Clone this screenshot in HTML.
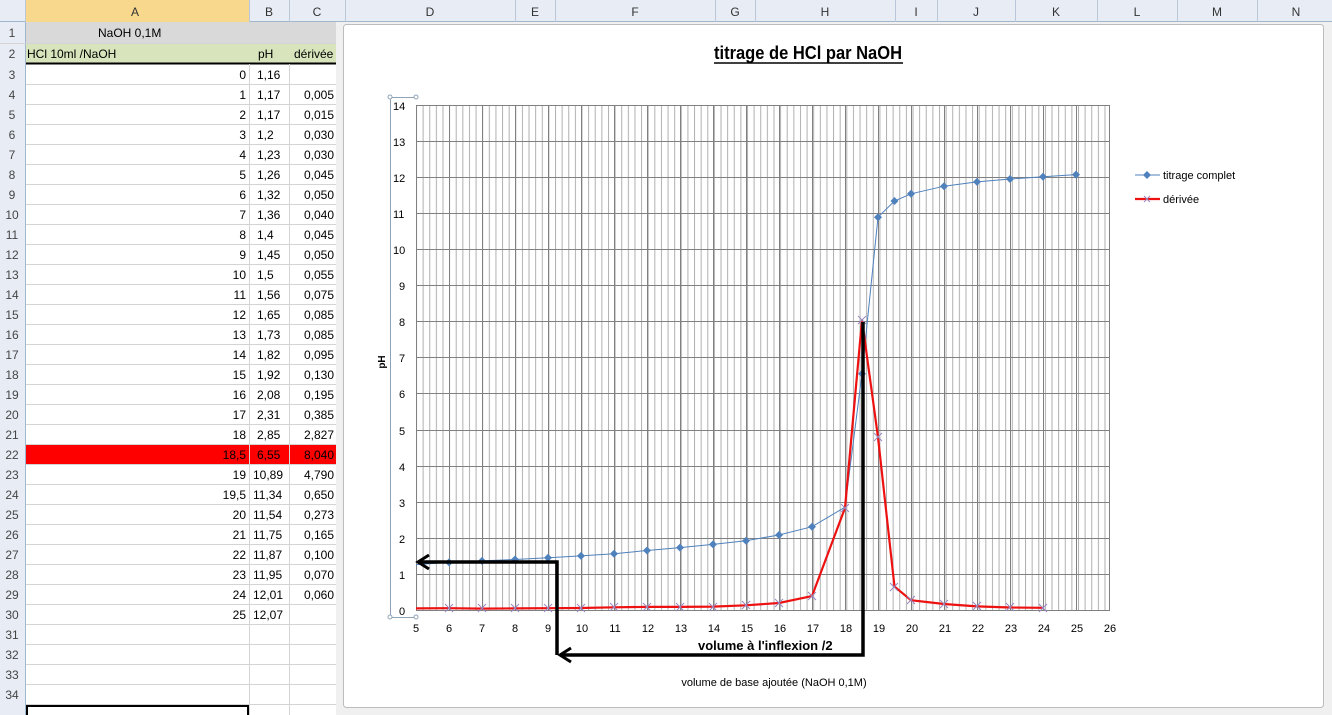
<!DOCTYPE html>
<html><head><meta charset="utf-8"><style>
html,body{margin:0;padding:0;background:#fff;width:1332px;height:715px;overflow:hidden}
svg{display:block;font-family:"Liberation Sans",sans-serif}
</style></head><body>
<svg width="1332" height="715" viewBox="0 0 1332 715" xmlns="http://www.w3.org/2000/svg">
<defs>
<pattern id="minor" x="416" y="0" width="6.62" height="715" patternUnits="userSpaceOnUse">
<line x1="0.5" y1="0" x2="0.5" y2="715" stroke="#b0b0b0" stroke-width="1"/></pattern>
<marker id="ah" markerWidth="12" markerHeight="12" refX="10" refY="6" orient="auto" markerUnits="userSpaceOnUse"><path d="M3,1 L10,6 L3,11" fill="none" stroke="#000" stroke-width="2.5"/></marker>
<clipPath id="pc"><rect x="416" y="100" width="695" height="515"/></clipPath>
</defs>
<rect x="0" y="0" width="1332" height="715" fill="#fff"/>
<rect x="0" y="0" width="1332" height="22" fill="#e8edf5"/>
<line x1="0" y1="21.5" x2="1332" y2="21.5" stroke="#9eb6ce"/>
<rect x="25" y="0" width="224" height="22" fill="#f8d88c"/>
<g stroke="#b9c7d9">
<line x1="25.5" y1="0" x2="25.5" y2="22"/><line x1="249.5" y1="0" x2="249.5" y2="22"/><line x1="289.5" y1="0" x2="289.5" y2="22"/><line x1="345.5" y1="0" x2="345.5" y2="22"/><line x1="515.5" y1="0" x2="515.5" y2="22"/><line x1="555.5" y1="0" x2="555.5" y2="22"/><line x1="715.5" y1="0" x2="715.5" y2="22"/><line x1="755.5" y1="0" x2="755.5" y2="22"/><line x1="895.5" y1="0" x2="895.5" y2="22"/><line x1="937.5" y1="0" x2="937.5" y2="22"/><line x1="1015.5" y1="0" x2="1015.5" y2="22"/><line x1="1097.5" y1="0" x2="1097.5" y2="22"/><line x1="1177.5" y1="0" x2="1177.5" y2="22"/><line x1="1257.5" y1="0" x2="1257.5" y2="22"/>
</g>
<g font-size="12" fill="#333" text-anchor="middle">
<text x="135" y="16">A</text><text x="269" y="16">B</text><text x="317" y="16">C</text><text x="430" y="16">D</text><text x="535" y="16">E</text><text x="635" y="16">F</text><text x="735" y="16">G</text><text x="825" y="16">H</text><text x="916" y="16">I</text><text x="976" y="16">J</text><text x="1056" y="16">K</text><text x="1137" y="16">L</text><text x="1217" y="16">M</text><text x="1296" y="16">N</text>
</g>
<rect x="0" y="22" width="25" height="693" fill="#e8edf5"/>
<line x1="25.5" y1="22" x2="25.5" y2="715" stroke="#9eb6ce"/>
<rect x="26" y="22" width="319" height="21" fill="#d9d9d9"/>
<rect x="26" y="43" width="319" height="21" fill="#d7e4bc"/>
<line x1="26" y1="63.5" x2="345" y2="63.5" stroke="#000" stroke-width="2"/>
<rect x="26" y="444" width="319" height="20" fill="#ff0000"/>
<g stroke="#d4d4d4">
<line x1="249.5" y1="64" x2="249.5" y2="715"/><line x1="289.5" y1="64" x2="289.5" y2="715"/>
</g>
<g stroke="#d4d4d4">
<line x1="0" y1="43.5" x2="345" y2="43.5"/>
<line x1="26" y1="84.5" x2="345" y2="84.5"/><line x1="26" y1="104.5" x2="345" y2="104.5"/><line x1="26" y1="124.5" x2="345" y2="124.5"/><line x1="26" y1="144.5" x2="345" y2="144.5"/><line x1="26" y1="164.5" x2="345" y2="164.5"/><line x1="26" y1="184.5" x2="345" y2="184.5"/><line x1="26" y1="204.5" x2="345" y2="204.5"/><line x1="26" y1="224.5" x2="345" y2="224.5"/><line x1="26" y1="244.5" x2="345" y2="244.5"/><line x1="26" y1="264.5" x2="345" y2="264.5"/><line x1="26" y1="284.5" x2="345" y2="284.5"/><line x1="26" y1="304.5" x2="345" y2="304.5"/><line x1="26" y1="324.5" x2="345" y2="324.5"/><line x1="26" y1="344.5" x2="345" y2="344.5"/><line x1="26" y1="364.5" x2="345" y2="364.5"/><line x1="26" y1="384.5" x2="345" y2="384.5"/><line x1="26" y1="404.5" x2="345" y2="404.5"/><line x1="26" y1="424.5" x2="345" y2="424.5"/><line x1="26" y1="444.5" x2="345" y2="444.5"/><line x1="26" y1="464.5" x2="345" y2="464.5"/><line x1="26" y1="484.5" x2="345" y2="484.5"/><line x1="26" y1="504.5" x2="345" y2="504.5"/><line x1="26" y1="524.5" x2="345" y2="524.5"/><line x1="26" y1="544.5" x2="345" y2="544.5"/><line x1="26" y1="564.5" x2="345" y2="564.5"/><line x1="26" y1="584.5" x2="345" y2="584.5"/><line x1="26" y1="604.5" x2="345" y2="604.5"/><line x1="26" y1="624.5" x2="345" y2="624.5"/><line x1="26" y1="644.5" x2="345" y2="644.5"/><line x1="26" y1="664.5" x2="345" y2="664.5"/><line x1="26" y1="684.5" x2="345" y2="684.5"/><line x1="26" y1="704.5" x2="345" y2="704.5"/>
</g>
<rect x="27" y="706" width="221" height="12" fill="none" stroke="#000" stroke-width="2"/>
<g font-size="12" fill="#444" text-anchor="middle">
<text x="12" y="37">1</text><text x="12" y="58">2</text><text x="12" y="79">3</text><text x="12" y="99">4</text><text x="12" y="119">5</text><text x="12" y="139">6</text><text x="12" y="159">7</text><text x="12" y="179">8</text><text x="12" y="199">9</text><text x="12" y="219">10</text><text x="12" y="239">11</text><text x="12" y="259">12</text><text x="12" y="279">13</text><text x="12" y="299">14</text><text x="12" y="319">15</text><text x="12" y="339">16</text><text x="12" y="359">17</text><text x="12" y="379">18</text><text x="12" y="399">19</text><text x="12" y="419">20</text><text x="12" y="439">21</text><text x="12" y="459">22</text><text x="12" y="479">23</text><text x="12" y="499">24</text><text x="12" y="519">25</text><text x="12" y="539">26</text><text x="12" y="559">27</text><text x="12" y="579">28</text><text x="12" y="599">29</text><text x="12" y="619">30</text><text x="12" y="639">31</text><text x="12" y="659">32</text><text x="12" y="679">33</text><text x="12" y="699">34</text>
</g>
<g font-size="12" fill="#000">
<text x="98" y="37">NaOH   0,1M</text>
<text x="27" y="58">HCl 10ml /NaOH</text>
<text x="258" y="58">pH</text>
<text x="294" y="58">dérivée</text>
</g>
<g font-size="12" fill="#000" text-anchor="end">
<text x="246" y="79">0</text><text x="246" y="99">1</text><text x="246" y="119">2</text><text x="246" y="139">3</text><text x="246" y="159">4</text><text x="246" y="179">5</text><text x="246" y="199">6</text><text x="246" y="219">7</text><text x="246" y="239">8</text><text x="246" y="259">9</text><text x="246" y="279">10</text><text x="246" y="299">11</text><text x="246" y="319">12</text><text x="246" y="339">13</text><text x="246" y="359">14</text><text x="246" y="379">15</text><text x="246" y="399">16</text><text x="246" y="419">17</text><text x="246" y="439">18</text><text x="246" y="459">18,5</text><text x="246" y="479">19</text><text x="246" y="499">19,5</text><text x="246" y="519">20</text><text x="246" y="539">21</text><text x="246" y="559">22</text><text x="246" y="579">23</text><text x="246" y="599">24</text><text x="246" y="619">25</text>
</g>
<g font-size="12" fill="#000">
<text x="257" y="79">1,16</text><text x="257" y="99">1,17</text><text x="257" y="119">1,17</text><text x="257" y="139">1,2</text><text x="257" y="159">1,23</text><text x="257" y="179">1,26</text><text x="257" y="199">1,32</text><text x="257" y="219">1,36</text><text x="257" y="239">1,4</text><text x="257" y="259">1,45</text><text x="257" y="279">1,5</text><text x="257" y="299">1,56</text><text x="257" y="319">1,65</text><text x="257" y="339">1,73</text><text x="257" y="359">1,82</text><text x="257" y="379">1,92</text><text x="257" y="399">2,08</text><text x="257" y="419">2,31</text><text x="257" y="439">2,85</text><text x="257" y="459">6,55</text><text x="253" y="479">10,89</text><text x="253" y="499">11,34</text><text x="253" y="519">11,54</text><text x="253" y="539">11,75</text><text x="253" y="559">11,87</text><text x="253" y="579">11,95</text><text x="253" y="599">12,01</text><text x="253" y="619">12,07</text>
</g>
<g font-size="12" fill="#000" text-anchor="end">
<text x="334" y="99">0,005</text><text x="334" y="119">0,015</text><text x="334" y="139">0,030</text><text x="334" y="159">0,030</text><text x="334" y="179">0,045</text><text x="334" y="199">0,050</text><text x="334" y="219">0,040</text><text x="334" y="239">0,045</text><text x="334" y="259">0,050</text><text x="334" y="279">0,055</text><text x="334" y="299">0,075</text><text x="334" y="319">0,085</text><text x="334" y="339">0,085</text><text x="334" y="359">0,095</text><text x="334" y="379">0,130</text><text x="334" y="399">0,195</text><text x="334" y="419">0,385</text><text x="334" y="439">2,827</text><text x="334" y="459">8,040</text><text x="334" y="479">4,790</text><text x="334" y="499">0,650</text><text x="334" y="519">0,273</text><text x="334" y="539">0,165</text><text x="334" y="559">0,100</text><text x="334" y="579">0,070</text><text x="334" y="599">0,060</text>
</g>
<rect x="336" y="22" width="996" height="693" fill="#f0f0f0"/>
<rect x="343.5" y="24.5" width="980" height="683" rx="3" fill="#fff" stroke="#bcbcbc"/>
<text x="714" y="59" font-size="18" font-weight="bold" textLength="188" lengthAdjust="spacingAndGlyphs">titrage de HCl par NaOH</text>
<line x1="714" y1="63" x2="903" y2="63" stroke="#000" stroke-width="1.5"/>
<rect x="416" y="105" width="694" height="505" fill="url(#minor)"/>
<g stroke="#808080" stroke-width="1">
<line x1="416" y1="105.5" x2="1110" y2="105.5"/><line x1="416" y1="141.5" x2="1110" y2="141.5"/><line x1="416" y1="177.5" x2="1110" y2="177.5"/><line x1="416" y1="213.5" x2="1110" y2="213.5"/><line x1="416" y1="249.5" x2="1110" y2="249.5"/><line x1="416" y1="285.5" x2="1110" y2="285.5"/><line x1="416" y1="321.5" x2="1110" y2="321.5"/><line x1="416" y1="357.5" x2="1110" y2="357.5"/><line x1="416" y1="393.5" x2="1110" y2="393.5"/><line x1="416" y1="430.5" x2="1110" y2="430.5"/><line x1="416" y1="466.5" x2="1110" y2="466.5"/><line x1="416" y1="502.5" x2="1110" y2="502.5"/><line x1="416" y1="538.5" x2="1110" y2="538.5"/><line x1="416" y1="574.5" x2="1110" y2="574.5"/><line x1="416" y1="610.5" x2="1110" y2="610.5"/>
<line x1="416.5" y1="105" x2="416.5" y2="610"/><line x1="449.5" y1="105" x2="449.5" y2="610"/><line x1="482.5" y1="105" x2="482.5" y2="610"/><line x1="515.5" y1="105" x2="515.5" y2="610"/><line x1="548.5" y1="105" x2="548.5" y2="610"/><line x1="581.5" y1="105" x2="581.5" y2="610"/><line x1="614.5" y1="105" x2="614.5" y2="610"/><line x1="647.5" y1="105" x2="647.5" y2="610"/><line x1="680.5" y1="105" x2="680.5" y2="610"/><line x1="713.5" y1="105" x2="713.5" y2="610"/><line x1="746.5" y1="105" x2="746.5" y2="610"/><line x1="779.5" y1="105" x2="779.5" y2="610"/><line x1="812.5" y1="105" x2="812.5" y2="610"/><line x1="845.5" y1="105" x2="845.5" y2="610"/><line x1="878.5" y1="105" x2="878.5" y2="610"/><line x1="911.5" y1="105" x2="911.5" y2="610"/><line x1="944.5" y1="105" x2="944.5" y2="610"/><line x1="977.5" y1="105" x2="977.5" y2="610"/><line x1="1010.5" y1="105" x2="1010.5" y2="610"/><line x1="1043.5" y1="105" x2="1043.5" y2="610"/><line x1="1076.5" y1="105" x2="1076.5" y2="610"/><line x1="1109.5" y1="105" x2="1109.5" y2="610"/>
</g>
<g stroke="#8fa3b8" fill="#fff" stroke-width="1">
<line x1="390.5" y1="97" x2="390.5" y2="617"/>
<line x1="390" y1="97.5" x2="416" y2="97.5"/><line x1="390" y1="617.5" x2="416" y2="617.5"/>
<circle cx="390" cy="97" r="2"/><circle cx="416" cy="97" r="2"/><circle cx="390" cy="617" r="2"/><circle cx="416" cy="617" r="2"/>
</g>
<g font-size="11" fill="#000">
<text x="393" y="110">14</text><text x="393" y="146">13</text><text x="393" y="182">12</text><text x="393" y="218">11</text><text x="393" y="254">10</text><text x="399" y="290">9</text><text x="399" y="326">8</text><text x="399" y="362">7</text><text x="399" y="398">6</text><text x="399" y="435">5</text><text x="399" y="471">4</text><text x="399" y="507">3</text><text x="399" y="543">2</text><text x="399" y="579">1</text><text x="399" y="615">0</text>
</g>
<g font-size="11" fill="#000" text-anchor="middle">
<text x="416" y="632">5</text><text x="449" y="632">6</text><text x="482" y="632">7</text><text x="515" y="632">8</text><text x="548" y="632">9</text><text x="582" y="632">10</text><text x="615" y="632">11</text><text x="648" y="632">12</text><text x="681" y="632">13</text><text x="714" y="632">14</text><text x="747" y="632">15</text><text x="780" y="632">16</text><text x="813" y="632">17</text><text x="846" y="632">18</text><text x="879" y="632">19</text><text x="912" y="632">20</text><text x="945" y="632">21</text><text x="978" y="632">22</text><text x="1011" y="632">23</text><text x="1044" y="632">24</text><text x="1077" y="632">25</text><text x="1110" y="632">26</text>
</g>
<text x="385" y="362" font-size="10" font-weight="bold" transform="rotate(-90 385 362)" text-anchor="middle">pH</text>
<text x="774" y="686" font-size="11" text-anchor="middle">volume  de base ajoutée (NaOH 0,1M)</text>
<g clip-path="url(#pc)">
<polyline fill="none" stroke="#4f81bd" stroke-width="1" points="416,564.6 449,562.4 482,560.9 515,559.5 548,557.7 581,555.9 614,553.7 647,550.5 680,547.6 713,544.4 746,540.7 779,535 812,526.7 845,507.2 862,373.7 878,217.2 894.5,201 911,193.8 944,186.2 977,181.9 1010,179 1043,176.8 1076,174.6"/>
<polyline fill="none" stroke="#ee1111" stroke-width="2.2" points="416,608.4 449,608.2 482,608.6 515,608.4 548,608.2 581,608 614,607.3 647,606.9 680,606.9 713,606.6 746,605.3 779,603 812,596.1 845,508 862,320 878,437.2 894.5,586.6 911,600.2 944,604 977,606.4 1010,607.5 1043,607.8"/>
<g fill="#4f81bd">
<path d="M449,558.4l4,4l-4,4l-4,-4z"/><path d="M482,556.9l4,4l-4,4l-4,-4z"/><path d="M515,555.5l4,4l-4,4l-4,-4z"/><path d="M548,553.7l4,4l-4,4l-4,-4z"/><path d="M581,551.9l4,4l-4,4l-4,-4z"/><path d="M614,549.7l4,4l-4,4l-4,-4z"/><path d="M647,546.5l4,4l-4,4l-4,-4z"/><path d="M680,543.6l4,4l-4,4l-4,-4z"/><path d="M713,540.4l4,4l-4,4l-4,-4z"/><path d="M746,536.7l4,4l-4,4l-4,-4z"/><path d="M779,531l4,4l-4,4l-4,-4z"/><path d="M812,522.7l4,4l-4,4l-4,-4z"/><path d="M862,369.7l4,4l-4,4l-4,-4z"/><path d="M878,213.2l4,4l-4,4l-4,-4z"/><path d="M894.5,197l4,4l-4,4l-4,-4z"/><path d="M911,189.8l4,4l-4,4l-4,-4z"/><path d="M944,182.2l4,4l-4,4l-4,-4z"/><path d="M977,177.9l4,4l-4,4l-4,-4z"/><path d="M1010,175l4,4l-4,4l-4,-4z"/><path d="M1043,172.8l4,4l-4,4l-4,-4z"/><path d="M1076,170.6l4,4l-4,4l-4,-4z"/>
</g>
<g stroke="#9a88c0" stroke-width="1">
<path d="M445,604l8,8M453,604l-8,8M478,604l8,8M486,604l-8,8M511,604l8,8M519,604l-8,8M544,604l8,8M552,604l-8,8M577,604l8,8M585,604l-8,8M610,603l8,8M618,603l-8,8M643,603l8,8M651,603l-8,8M676,603l8,8M684,603l-8,8M709,603l8,8M717,603l-8,8M742,601l8,8M750,601l-8,8M775,599l8,8M783,599l-8,8M808,592l8,8M816,592l-8,8M841,504l8,8M849,504l-8,8M858,316l8,8M866,316l-8,8M874,433l8,8M882,433l-8,8M890,583l8,8M898,583l-8,8M907,596l8,8M915,596l-8,8M940,600l8,8M948,600l-8,8M973,602l8,8M981,602l-8,8M1006,603l8,8M1014,603l-8,8M1039,604l8,8M1047,604l-8,8"/>
</g>
</g>
<g stroke="#000" stroke-width="3.5" fill="none">
<polyline points="863,322 863,655 560,655"/>
<polyline points="557,655 557,562 418,562"/>
<path d="M571,648 L560,655 L571,662" stroke-width="3"/>
<path d="M429,555 L418,562 L429,569" stroke-width="3"/>
</g>
<text x="698" y="650" font-size="13" font-weight="bold">volume à l'inflexion /2</text>
<line x1="1135" y1="175" x2="1160" y2="175" stroke="#4f81bd"/>
<path d="M1147,171l4,4l-4,4l-4,-4z" fill="#4f81bd"/>
<text x="1163" y="179" font-size="11">titrage complet</text>
<line x1="1135" y1="199" x2="1160" y2="199" stroke="#ee1111" stroke-width="2.2"/>
<path d="M1144,196l6,6M1150,196l-6,6" stroke="#9a88c0"/>
<text x="1163" y="203" font-size="11">dérivée</text>
</svg>
</body></html>
